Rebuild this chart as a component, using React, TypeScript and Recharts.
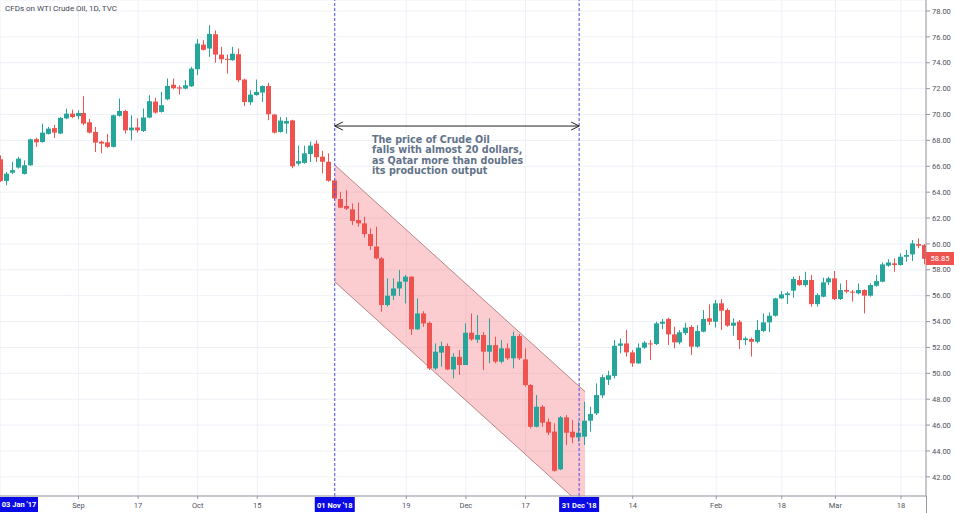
import React from 'react';
import { ComposedChart, Bar, Area, XAxis, YAxis, CartesianGrid, ReferenceLine } from 'recharts';

// daily WTI candles, 15 Aug 2018 .. 21 Mar 2019 (index = trading day)
const open = [
  66.54, 64.87, 65.5, 65.9, 65.41, 66.08, 68.1, 67.88, 68.5, 68.95, 68.53, 69.7, 70.07, 69.87, 70.12, 69.4,
  68.65, 67.9, 67.85, 67.5, 69.9, 70.27, 68.78, 69.0, 68.73, 69.77, 71.0, 70.2, 71.18, 72.3, 72.1, 72.0,
  72.18, 73.5, 75.4, 75.1, 76.2, 74.63, 74.3, 74.2, 74.66, 72.7, 70.95, 71.5, 71.7, 72.2, 70.0, 68.65,
  69.3, 69.55, 66.2, 66.26, 66.95, 67.75, 66.74, 66.35, 64.9, 63.47, 62.93, 62.67, 61.85, 61.59, 60.76, 59.8,
  58.88, 55.28, 56.0, 56.56, 57.08, 57.47, 53.4, 54.63, 53.9, 50.38, 51.6, 52.11, 50.3, 51.28, 50.64, 53.14,
  52.6, 52.96, 51.67, 52.18, 50.9, 51.93, 51.16, 52.88, 51.08, 49.1, 45.87, 47.42, 46.26, 45.5, 42.58, 46.6,
  45.49, 45.05, 45.1, 46.34, 46.9, 48.3, 49.5, 49.8, 52.13, 52.31, 51.62, 50.77, 51.98, 52.31, 52.26, 53.83,
  54.2, 53.01, 52.39, 53.11, 53.58, 52.06, 53.22, 54.25, 53.99, 55.41, 54.89, 53.68, 53.99, 52.57, 52.65, 52.44,
  53.27, 53.94, 54.45, 55.79, 56.05, 56.39, 57.21, 56.82, 57.21, 55.35, 55.92, 57.03, 57.34, 55.74, 56.44, 56.31,
  56.18, 56.44, 56.0, 56.77, 57.08, 58.32, 58.5, 58.37, 59.01, 59.19, 59.99, 59.91,
];
const high = [
  66.85, 65.56, 66.33, 66.72, 66.46, 68.14, 68.2, 69.3, 69.04, 69.2, 69.82, 70.46, 70.38, 70.33, 71.41, 69.66,
  69.04, 67.98, 68.5, 70.0, 71.23, 70.36, 69.94, 69.7, 70.46, 71.49, 71.3, 71.75, 72.78, 72.78, 72.26, 72.65,
  73.68, 75.82, 75.74, 76.9, 76.5, 75.23, 74.63, 75.23, 75.1, 72.78, 71.88, 72.7, 72.26, 72.44, 70.05, 69.8,
  69.8, 69.6, 67.6, 67.6, 67.9, 68.0, 67.2, 67.0, 65.0, 64.03, 64.16, 63.13, 63.2, 62.1, 61.2, 61.33,
  59.0, 57.34, 57.34, 57.98, 57.6, 57.5, 55.79, 54.8, 54.0, 52.31, 52.45, 52.31, 51.55, 51.8, 53.86, 54.63,
  54.5, 53.2, 54.25, 52.83, 52.57, 52.31, 53.22, 53.04, 51.93, 49.17, 48.32, 47.55, 46.52, 46.13, 46.7, 46.78,
  46.39, 46.26, 47.8, 47.42, 49.22, 49.9, 50.2, 52.57, 52.7, 53.35, 51.8, 52.31, 52.5, 52.57, 53.99, 54.2,
  54.3, 53.6, 53.35, 53.91, 53.73, 53.73, 54.89, 55.33, 55.66, 55.74, 55.02, 54.25, 54.12, 52.83, 52.75, 54.12,
  54.63, 54.71, 55.84, 56.36, 56.31, 57.47, 57.54, 57.85, 57.6, 56.18, 57.39, 57.47, 57.91, 56.95, 57.21, 56.44,
  56.95, 56.49, 56.95, 57.6, 58.57, 58.81, 58.88, 59.27, 59.53, 60.3, 60.43, 59.99,
];
const low = [
  64.79, 64.53, 65.4, 65.82, 65.36, 66.03, 67.5, 67.83, 68.45, 68.19, 68.48, 69.64, 69.72, 69.64, 69.17, 68.53,
  67.1, 67.0, 67.42, 67.45, 69.84, 68.53, 68.0, 68.6, 68.65, 69.7, 70.07, 70.15, 71.1, 71.95, 71.54, 71.95,
  72.13, 73.04, 74.94, 74.45, 74.0, 73.95, 73.16, 74.15, 72.52, 70.66, 70.75, 71.46, 70.97, 69.56, 68.53, 68.6,
  68.53, 65.85, 66.05, 66.2, 66.33, 66.33, 65.45, 64.8, 63.39, 62.75, 62.62, 61.46, 61.33, 60.5, 59.53, 58.8,
  54.76, 55.15, 55.66, 55.98, 55.4, 52.96, 53.35, 53.6, 50.25, 50.25, 50.51, 50.25, 49.61, 49.87, 50.64, 52.52,
  52.35, 50.25, 50.77, 50.77, 50.77, 51.03, 50.38, 51.03, 48.96, 45.75, 45.82, 45.87, 45.23, 42.4, 42.52, 44.46,
  44.59, 44.72, 44.46, 45.49, 46.78, 48.1, 49.1, 49.6, 51.54, 51.29, 50.5, 50.72, 51.88, 51.03, 52.19, 53.42,
  52.19, 51.93, 52.24, 52.96, 51.41, 51.98, 53.17, 53.73, 53.53, 53.35, 53.6, 52.91, 51.88, 52.19, 51.29, 52.31,
  53.17, 53.17, 54.38, 55.74, 55.35, 55.84, 56.77, 56.69, 55.15, 55.15, 55.87, 56.82, 55.66, 55.66, 56.18, 55.54,
  56.1, 54.63, 55.92, 56.69, 57.03, 58.24, 57.85, 58.32, 58.63, 58.68, 59.66, 58.42,
];
const close = [
  64.87, 65.43, 65.7, 66.59, 66.08, 68.09, 67.85, 68.6, 68.91, 68.6, 69.74, 70.07, 69.8, 70.12, 69.3, 68.6,
  67.83, 67.75, 67.5, 69.94, 70.28, 68.78, 68.99, 68.78, 69.77, 71.03, 70.15, 70.72, 72.21, 72.03, 72.0, 72.26,
  73.55, 75.48, 75.0, 76.23, 74.63, 74.27, 74.25, 74.7, 72.65, 70.97, 71.54, 71.75, 72.2, 70.02, 68.6, 69.53,
  69.5, 66.0, 66.4, 67.0, 67.6, 66.7, 66.35, 64.88, 63.52, 62.8, 62.72, 61.77, 61.59, 60.76, 59.84, 58.88,
  55.28, 56.0, 56.56, 57.08, 57.47, 53.4, 54.63, 53.86, 50.38, 51.67, 52.11, 50.3, 51.28, 50.64, 53.14, 52.62,
  52.96, 51.67, 52.18, 50.9, 51.93, 51.16, 52.88, 51.16, 49.09, 45.87, 47.42, 46.18, 45.41, 42.47, 46.6, 45.41,
  45.05, 45.41, 46.34, 46.86, 48.32, 49.7, 49.85, 52.13, 52.31, 51.62, 50.77, 51.98, 52.37, 52.24, 53.86, 53.99,
  53.01, 52.39, 53.17, 53.53, 52.06, 53.27, 54.2, 53.99, 55.41, 54.84, 53.68, 53.91, 52.57, 52.7, 52.44, 53.35,
  53.94, 54.45, 55.79, 56.1, 56.18, 57.29, 56.82, 57.21, 55.35, 56.05, 57.03, 57.34, 55.74, 56.44, 56.31, 56.23,
  56.44, 56.0, 56.82, 57.13, 58.42, 58.57, 58.37, 59.01, 59.14, 60.04, 59.86, 58.85,
];

const dateTicks = [13, 23, 33, 43, 56, 68, 78, 88, 97, 106, 120, 131, 140, 151];
const dateLabels = ['Sep', '17', 'Oct', '15', "01 Nov '18", '19', 'Dec', '17', "31 Dec '18", '14', 'Feb', '18', 'Mar', '18'];
const markedDates = ["01 Nov '18", "31 Dec '18"];
const priceTicks = [42, 44, 46, 48, 50, 52, 54, 56, 58, 60, 62, 64, 66, 68, 70, 72, 74, 76, 78];

// drawn channel (index, lower / upper price at both ends)
const channelIdx = [56, 98];
const channelLow = [57.08, 39.56];
const channelHigh = [66.1, 48.58];

// range arrow
const arrowFrom = 56;
const arrowTo = 97;
const arrowPrice = 69.11;

const UP = '#26a69a';
const DOWN = '#ef5350';
const MARK_BLUE = '#0a0ae6';

const candles = open.map((o, i) => ({ k: i, open: o, high: high[i], low: low[i], close: close[i] }));
const channel = channelIdx.map((k, i) => ({ k, band: [channelLow[i], channelHigh[i]] }));

const Candle = (props: any) => {
  const { x, y, width, height, payload } = props;
  const { open: o, close: c, high: h, low: l } = payload;
  const top = Math.min(y, y + height);
  const full = Math.abs(height);
  const ppu = h === l ? 0 : full / (h - l);
  const yo = top + (h - o) * ppu;
  const yc = top + (h - c) * ppu;
  const color = c >= o ? UP : DOWN;
  const left = Math.round(x + width / 2 - 2.5);
  return (
    <g>
      <line x1={left + 2.5} x2={left + 2.5} y1={top} y2={top + full} stroke={color} strokeWidth={1} />
      <rect x={left} y={Math.min(yo, yc)} width={5} height={Math.max(1, Math.abs(yo - yc))} fill={color} />
    </g>
  );
};

const DateTick = (props: any) => {
  const { x, y, payload } = props;
  const label = dateLabels[dateTicks.indexOf(payload.value)];
  if (markedDates.includes(label)) {
    return (
      <g>
        <rect x={x - 20} y={y - 4} width={40} height={15} fill={MARK_BLUE} />
        <text x={x} y={y + 7} textAnchor="middle" fill="#fff" fontSize={7.5} fontWeight="bold">{label}</text>
      </g>
    );
  }
  return (
    <text x={x} y={y + 7} textAnchor="middle" fill="#50535e" fontSize={7.5}>{label}</text>
  );
};

const dx = 8 / 5.96;
const dy = 4 / 12.94;

export default function App() {
  return (
    <div style={{ position: 'absolute', left: 0, top: 0, width: 954, height: 513, background: '#fff', fontFamily: 'Roboto, sans-serif', overflow: 'hidden' }}>
      <ComposedChart width={954} height={513} data={candles} margin={{ top: 0, right: 0, left: 0, bottom: 0 }}>
        <CartesianGrid stroke="#eef1f7" />
        <XAxis
          dataKey="k"
          type="number"
          domain={[-0.168, 155.2]}
          allowDataOverflow
          ticks={dateTicks}
          interval={0}
          height={17}
          tickSize={3}
          tickMargin={2}
          stroke="#9598a1"
          tick={<DateTick />}
        />
        <YAxis
          orientation="right"
          domain={[40.52, 78.85]}
          allowDataOverflow
          ticks={priceTicks}
          width={28}
          tickSize={4}
          tickMargin={2}
          stroke="#9598a1"
          tick={{ fontSize: 7.5, fill: '#50535e' }}
          tickFormatter={(v: number) => v.toFixed(2)}
        />
        <Area
          data={channel}
          dataKey="band"
          type="linear"
          fill="#f23645"
          fillOpacity={0.25}
          stroke="#b98585"
          strokeWidth={1}
          dot={false}
          activeDot={false}
          isAnimationActive={false}
        />
        <Bar dataKey={(d: any) => [d.low, d.high]} barSize={5} shape={<Candle />} isAnimationActive={false} />
        <ReferenceLine x={arrowFrom} stroke="#5050e0" strokeDasharray="3 2" />
        <ReferenceLine x={arrowTo} stroke="#5050e0" strokeDasharray="3 2" />
        <ReferenceLine segment={[{ x: arrowFrom, y: arrowPrice }, { x: arrowTo, y: arrowPrice }]} stroke="#222" />
        <ReferenceLine segment={[{ x: arrowFrom, y: arrowPrice }, { x: arrowFrom + dx, y: arrowPrice + dy }]} stroke="#222" />
        <ReferenceLine segment={[{ x: arrowFrom, y: arrowPrice }, { x: arrowFrom + dx, y: arrowPrice - dy }]} stroke="#222" />
        <ReferenceLine segment={[{ x: arrowTo, y: arrowPrice }, { x: arrowTo - dx, y: arrowPrice + dy }]} stroke="#222" />
        <ReferenceLine segment={[{ x: arrowTo, y: arrowPrice }, { x: arrowTo - dx, y: arrowPrice - dy }]} stroke="#222" />
      </ComposedChart>

      <div style={{ position: 'absolute', left: 5, top: 4, fontSize: 8, color: '#434651' }}>CFDs on WTI Crude Oil, 1D, TVC</div>

      <div style={{ position: 'absolute', left: 372, top: 135, fontFamily: '"DejaVu Sans", sans-serif', fontWeight: 'bold', fontSize: 9.6, lineHeight: '10.3px', color: '#63738a', whiteSpace: 'pre' }}>
        {'The price of Crude Oil\nfalls with almost 20 dollars,\nas Qatar more than doubles\nits production output'}
      </div>

      <div style={{ position: 'absolute', left: 0, top: 497, width: 38, height: 15, background: MARK_BLUE, color: '#fff', fontSize: 7.5, fontWeight: 'bold', lineHeight: '15px', textAlign: 'center' }}>03 Jan '17</div>

      <div style={{ position: 'absolute', left: 926, top: 496, width: 1, height: 17, background: '#9598a1' }} />
      <div style={{ position: 'absolute', left: 926, top: 252, width: 28, height: 13, background: DOWN, color: '#fff', fontSize: 7.5, lineHeight: '13px', textAlign: 'center' }}>58.85</div>
    </div>
  );
}
